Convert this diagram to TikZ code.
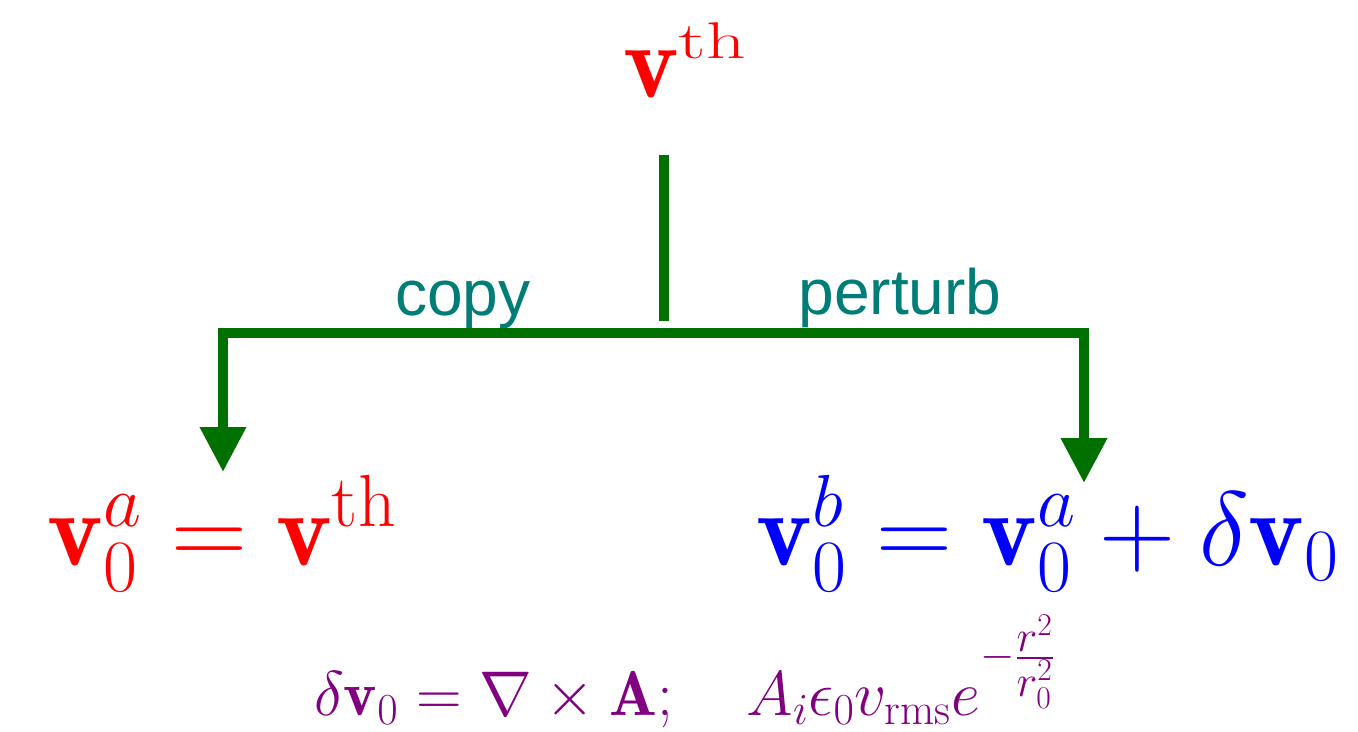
\RequirePackage{fix-cm}
\documentclass[tikz,border=0pt]{standalone}
\usepackage{amsmath}
\usepackage{graphicx}
\usepackage{fontspec}
\usepackage{tikz}
\usetikzlibrary{arrows.meta, positioning}
\setsansfont{Liberation Sans}
\definecolor{branchgreen}{RGB}{0,112,0}
\definecolor{labelteal}{RGB}{0,125,118}
\definecolor{formulapurple}{RGB}{128,0,128}
\tikzset{
    bigeq/.style={inner sep=0pt, anchor=base, font=\fontsize{60}{64}\selectfont},
    smalleq/.style={inner sep=0pt, anchor=base, text=formulapurple,
                    font=\fontsize{36}{40}\selectfont},
    branchlbl/.style={inner sep=0pt, anchor=base, text=labelteal,
                      font=\sffamily\fontsize{36.5}{40}\selectfont},
    branch/.style={draw=branchgreen, line width=0.2cm, line join=miter},
}

\begin{document}
\begin{tikzpicture}[x=0.02cm, y=-0.02cm]
    \useasboundingbox (0,0) rectangle (1358,731);
    \node[bigeq, text=red] (vth) at (685,97)
        {$\mathbf{v}^{\scalebox{1.05}[0.7]{$\scriptstyle\mathrm{th}$}}$};
    \node[bigeq, text=red] (aeq) at (222,565) {$\mathbf{v}_0^a=\mathbf{v}^{\mathrm{th}}$};
    \node[bigeq, text=blue] (beq) at (1048,565) {$\mathbf{v}_0^b=\mathbf{v}_0^a+\delta\mathbf{v}_0$};
    \node[smalleq] (curl) at (685,715)
        {$\delta\mathbf{v}_0=\nabla\times\mathbf{A};\quad A_i\epsilon_0 v_{\mathrm{rms}}e^{-\frac{\scriptstyle r^2}{\scriptstyle r_0^2}}$};
    \node[branchlbl] (copy) at (463,315) {copy};
    \node[branchlbl] (perturb) at (900,314) {perturb};
    \coordinate (stemtop) at (664,155);
    \coordinate (stembot) at (664,321);
    \coordinate (bar) at (664,333);
    \coordinate (ltip) at (223,472);
    \coordinate (rtip) at (1084,483);
    \draw[branch] (stemtop) -- (stembot);
    \draw[branch, {Triangle[width=0.88cm, length=0.9cm]}-{Triangle[width=0.88cm, length=0.9cm]}]
        (ltip) |- (bar) -| (rtip);
\end{tikzpicture}
\end{document}
